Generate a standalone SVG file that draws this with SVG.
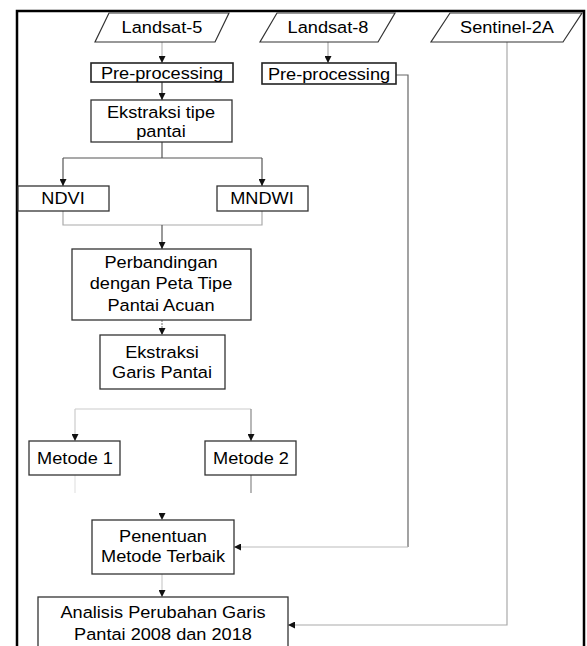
<svg xmlns="http://www.w3.org/2000/svg" width="587" height="646" viewBox="0 0 587 646">
<defs>
<marker id="ah" viewBox="0 0 8 8" refX="8" refY="4" markerWidth="7" markerHeight="7" markerUnits="userSpaceOnUse" orient="auto">
<path d="M0,0 L8,4 L0,8 Z" fill="#111"/>
</marker>
<style>
.box{fill:#fff;stroke:#333;stroke-width:1.3}
.pbox{fill:#fff;stroke:#222;stroke-width:1.6}
.io{fill:#fff;stroke:#333;stroke-width:1.2}
.t{font-family:"Liberation Sans",Arial,sans-serif;font-size:17px;fill:#000;text-anchor:middle}
.c{fill:none;stroke-width:1.2}
</style>
</defs>
<rect width="587" height="646" fill="#fff"/>
<path d="M17,646 V11 H584 V646" fill="none" stroke="#000" stroke-width="2.5"/>

<g id="connectors">
<path class="c" stroke="#bbb" d="M162,42 V63" marker-end="url(#ah)"/>
<path class="c" stroke="#444" d="M162,82 V100" marker-end="url(#ah)"/>
<path class="c" stroke="#aaa" d="M328,42 V63" marker-end="url(#ah)"/>
<path class="c" stroke="#555" d="M162,142 V158"/>
<path class="c" stroke="#555" d="M63,158 H262"/>
<path class="c" stroke="#555" d="M63,158 V186" marker-end="url(#ah)"/>
<path class="c" stroke="#555" d="M262,158 V186" marker-end="url(#ah)"/>
<path class="c" stroke="#aaa" d="M63,211 V225 H262 V211"/>
<path class="c" stroke="#555" d="M162,225 V249" marker-end="url(#ah)"/>
<path class="c" stroke="#888" stroke-dasharray="2,1" d="M162,320 V335" marker-end="url(#ah)"/>
<path class="c" stroke="#ccc" d="M75,409 H251"/>
<path class="c" stroke="#ccc" d="M75,409 V441" marker-end="url(#ah)"/>
<path class="c" stroke="#888" d="M251,409 V441" marker-end="url(#ah)"/>
<path class="c" stroke="#e3e3e3" d="M75,475 V493"/>
<path class="c" stroke="#888" d="M251,475 V493"/>
<path class="c" stroke="#fff" d="M162,511 V520" marker-end="url(#ah)"/>
<path class="c" stroke="#666" d="M396,75 H408 V547"/>
<path class="c" stroke="#bbb" d="M408,547 H234" marker-end="url(#ah)"/>
<path class="c" stroke="#ccc" d="M162,574 V597" marker-end="url(#ah)"/>
<path class="c" stroke="#aaa" d="M507,42 V625 H288" marker-end="url(#ah)"/>
</g>

<g id="landsat5">
<polygon class="io" points="109,13 229,13 215,42 95,42"/>
<g transform="translate(162,0) scale(1.07,1)"><text class="t" x="0" y="33">Landsat-5</text></g>
</g>
<g id="landsat8">
<polygon class="io" points="277,13 395,13 378,42 260,42"/>
<g transform="translate(328,0) scale(1.07,1)"><text class="t" x="0" y="33">Landsat-8</text></g>
</g>
<g id="sentinel2a">
<polygon class="io" points="450,13 582,13 563,42 431,42"/>
<g transform="translate(507,0) scale(1.07,1)"><text class="t" x="0" y="33">Sentinel-2A</text></g>
</g>

<g id="preproc5">
<rect class="pbox" x="91" y="63" width="142" height="19"/>
<g transform="translate(162,0) scale(1.07,1)"><text class="t" x="0" y="79">Pre-processing</text></g>
</g>
<g id="preproc8">
<rect class="pbox" x="262" y="63" width="134" height="21"/>
<g transform="translate(329,0) scale(1.07,1)"><text class="t" x="0" y="80">Pre-processing</text></g>
</g>

<g id="ekstraksi-tipe">
<rect class="box" x="91" y="100" width="141" height="42"/>
<g transform="translate(161,0) scale(1.07,1)"><text class="t" x="0" y="118">Ekstraksi tipe</text><text class="t" x="0" y="137">pantai</text></g>
</g>

<g id="ndvi">
<rect class="box" x="18" y="186" width="91" height="25"/>
<g transform="translate(63,0) scale(1.07,1)"><text class="t" x="0" y="204">NDVI</text></g>
</g>
<g id="mndwi">
<rect class="box" x="217" y="186" width="91" height="25"/>
<g transform="translate(262,0) scale(1.07,1)"><text class="t" x="0" y="204">MNDWI</text></g>
</g>

<g id="perbandingan">
<rect class="box" x="72" y="249" width="179" height="71"/>
<g transform="translate(161,0) scale(1.07,1)"><text class="t" x="0" y="268">Perbandingan</text><text class="t" x="0" y="289">dengan Peta Tipe</text><text class="t" x="0" y="311">Pantai Acuan</text></g>
</g>

<g id="ekstraksi-garis">
<rect class="box" x="100" y="335" width="125" height="54"/>
<g transform="translate(162,0) scale(1.07,1)"><text class="t" x="0" y="358">Ekstraksi</text><text class="t" x="0" y="378">Garis Pantai</text></g>
</g>

<g id="metode1">
<rect class="box" x="29" y="441" width="91" height="34"/>
<g transform="translate(75,0) scale(1.07,1)"><text class="t" x="0" y="464">Metode 1</text></g>
</g>
<g id="metode2">
<rect class="box" x="205" y="441" width="91" height="34"/>
<g transform="translate(251,0) scale(1.07,1)"><text class="t" x="0" y="464">Metode 2</text></g>
</g>

<g id="penentuan">
<rect class="box" x="92" y="520" width="142" height="54"/>
<g transform="translate(163,0) scale(1.07,1)"><text class="t" x="0" y="542">Penentuan</text><text class="t" x="0" y="562">Metode Terbaik</text></g>
</g>

<g id="analisis">
<rect class="box" x="38" y="597" width="250" height="55"/>
<g transform="translate(163,0) scale(1.07,1)"><text class="t" x="0" y="618">Analisis Perubahan Garis</text><text class="t" x="0" y="640">Pantai 2008 dan 2018</text></g>
</g>
</svg>
